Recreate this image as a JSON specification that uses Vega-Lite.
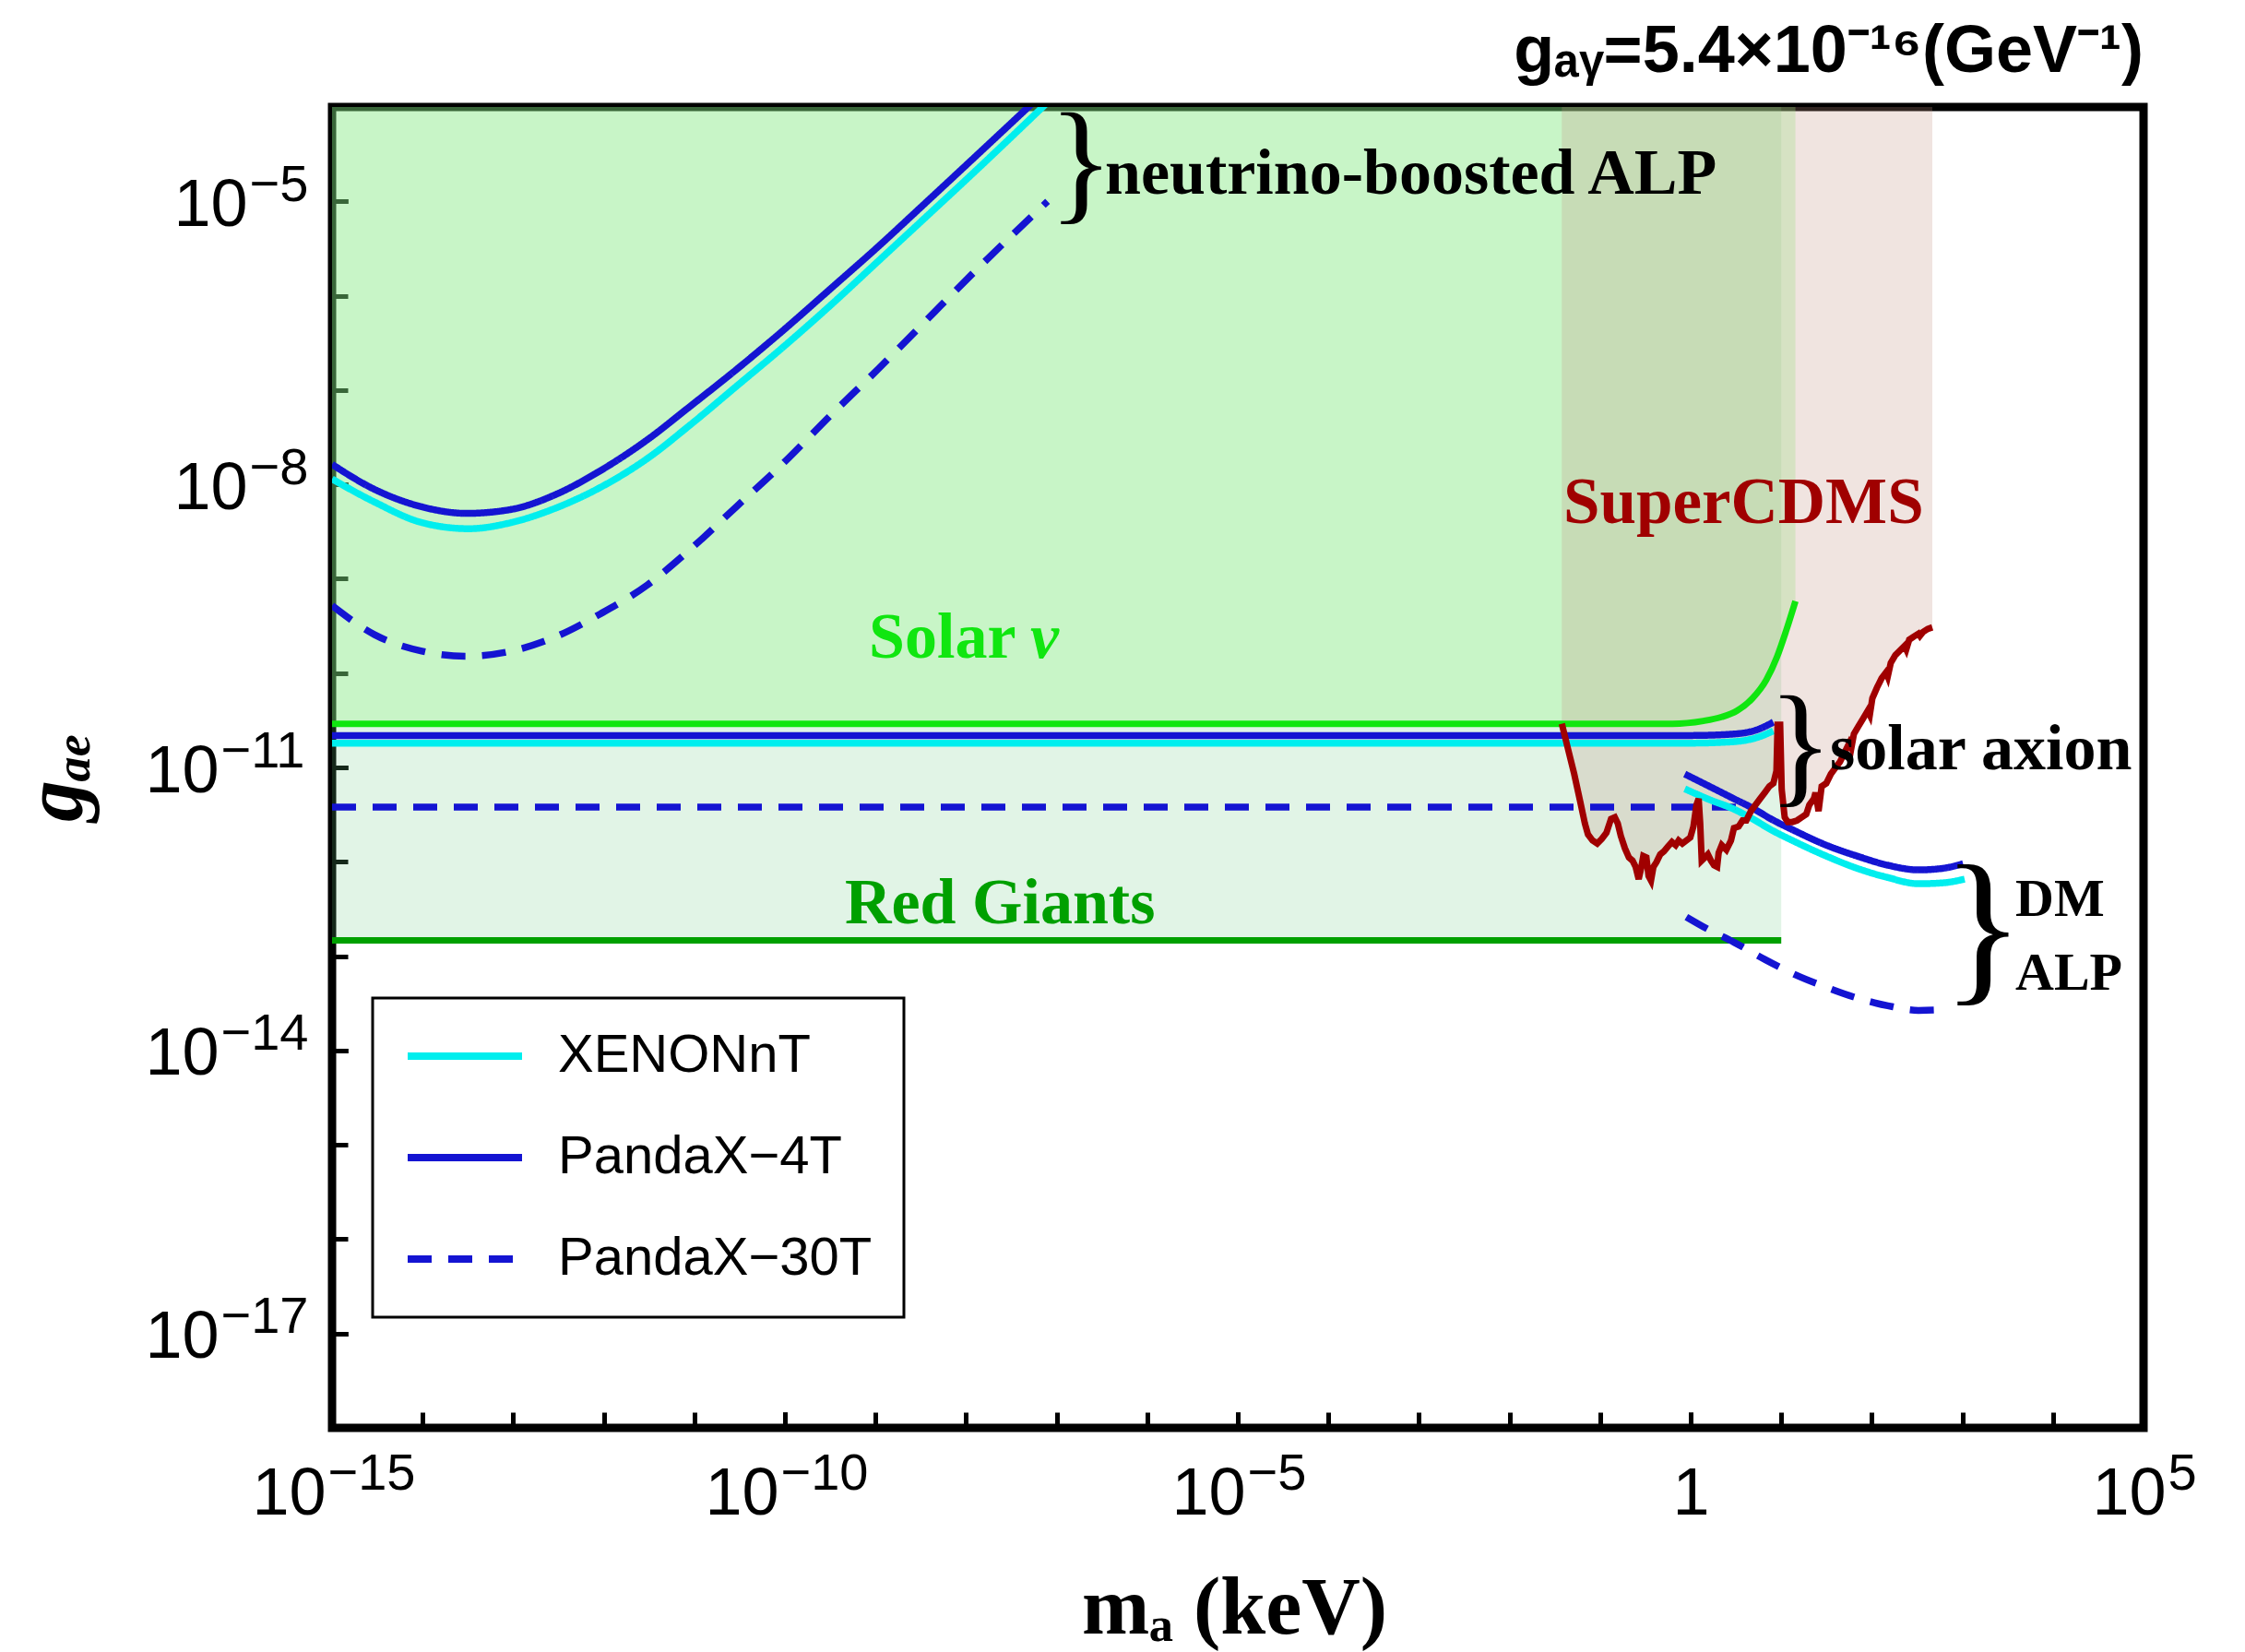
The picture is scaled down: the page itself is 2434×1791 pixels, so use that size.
{
"$schema": "https://vega.github.io/schema/vega-lite/v6.json",
"width": 1964, "height": 1432,
"autosize": {"type": "none"},
"padding": {"left": 360, "top": 116, "right": 110, "bottom": 243},
"background": "white",
"title": {"text": "gₐᵧ=5.4×10⁻¹⁶(GeV⁻¹)", "anchor": "end", "frame": "group", "orient": "top", "font": "Liberation Sans", "fontSize": 72, "fontWeight": "bold", "color": "black", "baseline": "alphabetic", "offset": 28, "dy": 72},
"config": {"view": {"stroke": "black", "strokeWidth": 9}, "font": "Liberation Sans",
 "axis": {"domain": false, "grid": false, "ticks": true, "tickSize": -17, "tickWidth": 5, "tickColor": "black", "labelFont": "Liberation Sans", "labelColor": "black", "labelFlush": false, "labelOverlap": false, "labelBound": false, "zindex": 1}},
"resolve": {"axis": {"x": "independent", "y": "independent"}},
"datasets": {
"rg": [{"ma": 1e-15, "gae": 1.47e-13}, {"ma": 10, "gae": 1.47e-13}],
"solarnu": [
{"ma": 1e-15, "gae": 2.9e-11}, {"ma": 0.631, "gae": 2.9e-11}, {"ma": 1.377, "gae": 3.11e-11}, {"ma": 2.203, "gae": 3.43e-11},
{"ma": 3.251, "gae": 3.99e-11}, {"ma": 4.808, "gae": 5.4e-11}, {"ma": 6.839, "gae": 8.47e-11}, {"ma": 8.995, "gae": 1.49e-10},
{"ma": 11.35, "gae": 2.83e-10}, {"ma": 14.35, "gae": 5.79e-10}],
"cdms": [
{"ma": 0.0378, "gae": 2.9e-11}, {"ma": 0.0443, "gae": 1.56e-11}, {"ma": 0.0518, "gae": 8.51e-12}, {"ma": 0.0604, "gae": 4.32e-12},
{"ma": 0.0679, "gae": 2.55e-12}, {"ma": 0.0735, "gae": 1.95e-12}, {"ma": 0.0826, "gae": 1.68e-12}, {"ma": 0.0929, "gae": 1.56e-12},
{"ma": 0.1045, "gae": 1.75e-12}, {"ma": 0.1175, "gae": 2.03e-12}, {"ma": 0.1321, "gae": 2.85e-12}, {"ma": 0.1452, "gae": 2.96e-12},
{"ma": 0.1567, "gae": 2.55e-12}, {"ma": 0.1694, "gae": 1.88e-12}, {"ma": 0.1879, "gae": 1.39e-12}, {"ma": 0.208, "gae": 1.11e-12},
{"ma": 0.228, "gae": 1.03e-12}, {"ma": 0.2466, "gae": 8.85e-13}, {"ma": 0.2667, "gae": 6.55e-13}, {"ma": 0.2838, "gae": 8.53e-13},
{"ma": 0.2999, "gae": 1.15e-12}, {"ma": 0.3243, "gae": 1.11e-12}, {"ma": 0.3428, "gae": 7.06e-13}, {"ma": 0.3648, "gae": 6.31e-13},
{"ma": 0.3882, "gae": 8.85e-13}, {"ma": 0.4198, "gae": 9.93e-13}, {"ma": 0.4613, "gae": 1.2e-12}, {"ma": 0.507, "gae": 1.29e-12},
{"ma": 0.561, "gae": 1.45e-12}, {"ma": 0.6209, "gae": 1.62e-12}, {"ma": 0.6823, "gae": 1.5e-12}, {"ma": 0.7362, "gae": 1.68e-12},
{"ma": 0.8091, "gae": 1.56e-12}, {"ma": 0.8954, "gae": 1.68e-12}, {"ma": 0.9908, "gae": 1.81e-12}, {"ma": 1.072, "gae": 2.36e-12},
{"ma": 1.159, "gae": 4.0e-12}, {"ma": 1.225, "gae": 4.66e-12}, {"ma": 1.274, "gae": 2.55e-12}, {"ma": 1.324, "gae": 1.03e-12},
{"ma": 1.432, "gae": 1.11e-12}, {"ma": 1.549, "gae": 1.2e-12}, {"ma": 1.675, "gae": 1.03e-12}, {"ma": 1.811, "gae": 9.2e-13},
{"ma": 1.959, "gae": 8.85e-13}, {"ma": 2.037, "gae": 1.245e-12}, {"ma": 2.203, "gae": 1.5e-12}, {"ma": 2.477, "gae": 1.34e-12},
{"ma": 2.786, "gae": 1.68e-12}, {"ma": 3.006, "gae": 2.28e-12}, {"ma": 3.381, "gae": 2.36e-12}, {"ma": 3.741, "gae": 2.74e-12},
{"ma": 4.111, "gae": 2.74e-12}, {"ma": 4.624, "gae": 3.44e-12}, {"ma": 5.2, "gae": 4.0e-12}, {"ma": 5.848, "gae": 4.66e-12},
{"ma": 6.577, "gae": 5.41e-12}, {"ma": 7.396, "gae": 6.3e-12}, {"ma": 8.185, "gae": 6.78e-12}, {"ma": 8.851, "gae": 9.16e-12},
{"ma": 9.12, "gae": 2.84e-11}, {"ma": 9.727, "gae": 2.84e-11}, {"ma": 10.12, "gae": 5.83e-12}, {"ma": 10.91, "gae": 2.96e-12},
{"ma": 11.8, "gae": 2.64e-12}, {"ma": 13.27, "gae": 2.64e-12}, {"ma": 14.93, "gae": 2.74e-12}, {"ma": 16.79, "gae": 2.96e-12},
{"ma": 18.88, "gae": 3.19e-12}, {"ma": 20.42, "gae": 4.0e-12}, {"ma": 22.96, "gae": 4.66e-12}, {"ma": 23.88, "gae": 5.41e-12},
{"ma": 25.82, "gae": 3.44e-12}, {"ma": 27.93, "gae": 6.3e-12}, {"ma": 31.41, "gae": 6.78e-12}, {"ma": 35.32, "gae": 8.51e-12},
{"ma": 39.63, "gae": 9.89e-12}, {"ma": 44.57, "gae": 1.15e-11}, {"ma": 50.12, "gae": 1.44e-11}, {"ma": 56.36, "gae": 1.81e-11},
{"ma": 59.5, "gae": 1.62e-11}, {"ma": 63.39, "gae": 2.26e-11}, {"ma": 71.29, "gae": 2.74e-11}, {"ma": 80.17, "gae": 3.3e-11},
{"ma": 90.16, "gae": 3.99e-11}, {"ma": 95.0, "gae": 3.6e-11}, {"ma": 101.4, "gae": 5.4e-11}, {"ma": 114.0, "gae": 7.01e-11},
{"ma": 128.2, "gae": 8.81e-11}, {"ma": 143.9, "gae": 1.02e-10}, {"ma": 150.0, "gae": 9.2e-11}, {"ma": 161.8, "gae": 1.28e-10},
{"ma": 182.0, "gae": 1.55e-10}, {"ma": 204.6, "gae": 1.73e-10}, {"ma": 230.1, "gae": 1.94e-10}, {"ma": 240.0, "gae": 1.78e-10},
{"ma": 258.8, "gae": 2.26e-10}, {"ma": 291.1, "gae": 2.44e-10}, {"ma": 327.3, "gae": 2.62e-10}, {"ma": 340.0, "gae": 2.48e-10},
{"ma": 368.1, "gae": 2.73e-10}, {"ma": 414.0, "gae": 2.94e-10}, {"ma": 465.6, "gae": 3.05e-10}],
"det": [
{"detector": "PandaX−4T", "curve": "nu4", "ma": 1e-15, "gae": 1.63e-8},
{"detector": "PandaX−4T", "curve": "nu4", "ma": 2.95e-15, "gae": 8.85e-9},
{"detector": "PandaX−4T", "curve": "nu4", "ma": 9.77e-15, "gae": 5.79e-9},
{"detector": "PandaX−4T", "curve": "nu4", "ma": 3.04e-14, "gae": 4.93e-9},
{"detector": "PandaX−4T", "curve": "nu4", "ma": 9.51e-14, "gae": 5.43e-9},
{"detector": "PandaX−4T", "curve": "nu4", "ma": 2.96e-13, "gae": 7.83e-9},
{"detector": "PandaX−4T", "curve": "nu4", "ma": 9.2e-13, "gae": 1.4e-8},
{"detector": "PandaX−4T", "curve": "nu4", "ma": 3.05e-12, "gae": 2.99e-8},
{"detector": "PandaX−4T", "curve": "nu4", "ma": 8.97e-12, "gae": 6.71e-8},
{"detector": "PandaX−4T", "curve": "nu4", "ma": 2.96e-11, "gae": 1.67e-7},
{"detector": "PandaX−4T", "curve": "nu4", "ma": 9.79e-11, "gae": 4.37e-7},
{"detector": "PandaX−4T", "curve": "nu4", "ma": 3.24e-10, "gae": 1.2e-6},
{"detector": "PandaX−4T", "curve": "nu4", "ma": 1.07e-9, "gae": 3.31e-6},
{"detector": "PandaX−4T", "curve": "nu4", "ma": 3.55e-9, "gae": 9.59e-6},
{"detector": "PandaX−4T", "curve": "nu4", "ma": 1.17e-8, "gae": 2.78e-5},
{"detector": "PandaX−4T", "curve": "nu4", "ma": 6.31e-8, "gae": 1.26e-4},
{"detector": "XENONnT", "curve": "nuX", "ma": 1e-15, "gae": 1.14e-8},
{"detector": "XENONnT", "curve": "nuX", "ma": 2.95e-15, "gae": 6.5e-9},
{"detector": "XENONnT", "curve": "nuX", "ma": 9.77e-15, "gae": 3.94e-9},
{"detector": "XENONnT", "curve": "nuX", "ma": 3.24e-14, "gae": 3.39e-9},
{"detector": "XENONnT", "curve": "nuX", "ma": 9.51e-14, "gae": 3.94e-9},
{"detector": "XENONnT", "curve": "nuX", "ma": 2.96e-13, "gae": 5.62e-9},
{"detector": "XENONnT", "curve": "nuX", "ma": 9.2e-13, "gae": 9.31e-9},
{"detector": "XENONnT", "curve": "nuX", "ma": 3.05e-12, "gae": 1.89e-8},
{"detector": "XENONnT", "curve": "nuX", "ma": 8.97e-12, "gae": 4.26e-8},
{"detector": "XENONnT", "curve": "nuX", "ma": 2.96e-11, "gae": 1.11e-7},
{"detector": "XENONnT", "curve": "nuX", "ma": 9.79e-11, "gae": 2.91e-7},
{"detector": "XENONnT", "curve": "nuX", "ma": 3.24e-10, "gae": 8.02e-7},
{"detector": "XENONnT", "curve": "nuX", "ma": 1.07e-9, "gae": 2.32e-6},
{"detector": "XENONnT", "curve": "nuX", "ma": 3.55e-9, "gae": 6.73e-6},
{"detector": "XENONnT", "curve": "nuX", "ma": 1.17e-8, "gae": 1.95e-5},
{"detector": "XENONnT", "curve": "nuX", "ma": 7.94e-8, "gae": 1.12e-4},
{"detector": "PandaX−30T", "curve": "nu30", "ma": 1e-15, "gae": 5.19e-10},
{"detector": "PandaX−30T", "curve": "nu30", "ma": 2.95e-15, "gae": 2.55e-10},
{"detector": "PandaX−30T", "curve": "nu30", "ma": 9.77e-15, "gae": 1.71e-10},
{"detector": "PandaX−30T", "curve": "nu30", "ma": 3.04e-14, "gae": 1.51e-10},
{"detector": "PandaX−30T", "curve": "nu30", "ma": 9.51e-14, "gae": 1.71e-10},
{"detector": "PandaX−30T", "curve": "nu30", "ma": 2.96e-13, "gae": 2.43e-10},
{"detector": "PandaX−30T", "curve": "nu30", "ma": 9.2e-13, "gae": 4.25e-10},
{"detector": "PandaX−30T", "curve": "nu30", "ma": 3.05e-12, "gae": 8.63e-10},
{"detector": "PandaX−30T", "curve": "nu30", "ma": 8.97e-12, "gae": 2.04e-9},
{"detector": "PandaX−30T", "curve": "nu30", "ma": 2.96e-11, "gae": 5.89e-9},
{"detector": "PandaX−30T", "curve": "nu30", "ma": 9.79e-11, "gae": 1.71e-8},
{"detector": "PandaX−30T", "curve": "nu30", "ma": 3.24e-10, "gae": 5.47e-8},
{"detector": "PandaX−30T", "curve": "nu30", "ma": 1.07e-9, "gae": 1.67e-7},
{"detector": "PandaX−30T", "curve": "nu30", "ma": 3.55e-9, "gae": 5.35e-7},
{"detector": "PandaX−30T", "curve": "nu30", "ma": 1.17e-8, "gae": 1.7e-6},
{"detector": "PandaX−30T", "curve": "nu30", "ma": 7.94e-8, "gae": 1.0e-5},
{"detector": "PandaX−4T", "curve": "sol4", "ma": 1e-15, "gae": 2.18e-11},
{"detector": "PandaX−4T", "curve": "sol4", "ma": 1.0, "gae": 2.18e-11},
{"detector": "PandaX−4T", "curve": "sol4", "ma": 3.0, "gae": 2.26e-11},
{"detector": "PandaX−4T", "curve": "sol4", "ma": 5.62, "gae": 2.54e-11},
{"detector": "PandaX−4T", "curve": "sol4", "ma": 8.18, "gae": 3.02e-11},
{"detector": "XENONnT", "curve": "solX", "ma": 1e-15, "gae": 1.81e-11},
{"detector": "XENONnT", "curve": "solX", "ma": 1.0, "gae": 1.81e-11},
{"detector": "XENONnT", "curve": "solX", "ma": 3.0, "gae": 1.875e-11},
{"detector": "XENONnT", "curve": "solX", "ma": 5.62, "gae": 2.1e-11},
{"detector": "XENONnT", "curve": "solX", "ma": 8.18, "gae": 2.44e-11},
{"detector": "PandaX−30T", "curve": "sol30", "ma": 1e-15, "gae": 3.79e-12},
{"detector": "PandaX−30T", "curve": "sol30", "ma": 5.0, "gae": 3.79e-12},
{"detector": "PandaX−4T", "curve": "dm4", "ma": 0.861, "gae": 8.51e-12},
{"detector": "PandaX−4T", "curve": "dm4", "ma": 1.611, "gae": 6.3e-12},
{"detector": "PandaX−4T", "curve": "dm4", "ma": 3.013, "gae": 4.65e-12},
{"detector": "PandaX−4T", "curve": "dm4", "ma": 4.819, "gae": 3.71e-12},
{"detector": "PandaX−4T", "curve": "dm4", "ma": 7.691, "gae": 2.85e-12},
{"detector": "PandaX−4T", "curve": "dm4", "ma": 14.39, "gae": 2.11e-12},
{"detector": "PandaX−4T", "curve": "dm4", "ma": 31.41, "gae": 1.5e-12},
{"detector": "PandaX−4T", "curve": "dm4", "ma": 68.71, "gae": 1.15e-12},
{"detector": "PandaX−4T", "curve": "dm4", "ma": 150.0, "gae": 9.2e-13},
{"detector": "PandaX−4T", "curve": "dm4", "ma": 327.3, "gae": 8.2e-13},
{"detector": "PandaX−4T", "curve": "dm4", "ma": 612.4, "gae": 8.53e-13},
{"detector": "PandaX−4T", "curve": "dm4", "ma": 1019, "gae": 9.55e-13},
{"detector": "XENONnT", "curve": "dmX", "ma": 0.861, "gae": 5.93e-12},
{"detector": "XENONnT", "curve": "dmX", "ma": 1.611, "gae": 4.56e-12},
{"detector": "XENONnT", "curve": "dmX", "ma": 3.013, "gae": 3.61e-12},
{"detector": "XENONnT", "curve": "dmX", "ma": 4.819, "gae": 2.85e-12},
{"detector": "XENONnT", "curve": "dmX", "ma": 7.691, "gae": 2.19e-12},
{"detector": "XENONnT", "curve": "dmX", "ma": 14.39, "gae": 1.62e-12},
{"detector": "XENONnT", "curve": "dmX", "ma": 31.41, "gae": 1.15e-12},
{"detector": "XENONnT", "curve": "dmX", "ma": 68.71, "gae": 8.53e-13},
{"detector": "XENONnT", "curve": "dmX", "ma": 150.0, "gae": 6.81e-13},
{"detector": "XENONnT", "curve": "dmX", "ma": 327.3, "gae": 5.85e-13},
{"detector": "XENONnT", "curve": "dmX", "ma": 612.4, "gae": 5.98e-13},
{"detector": "XENONnT", "curve": "dmX", "ma": 1059, "gae": 6.55e-13},
{"detector": "PandaX−30T", "curve": "dm30", "ma": 0.897, "gae": 2.6e-13},
{"detector": "PandaX−30T", "curve": "dm30", "ma": 1.585, "gae": 1.905e-13},
{"detector": "PandaX−30T", "curve": "dm30", "ma": 3.013, "gae": 1.4e-13},
{"detector": "PandaX−30T", "curve": "dm30", "ma": 6.577, "gae": 9.23e-14},
{"detector": "PandaX−30T", "curve": "dm30", "ma": 14.39, "gae": 6.32e-14},
{"detector": "PandaX−30T", "curve": "dm30", "ma": 31.41, "gae": 4.68e-14},
{"detector": "PandaX−30T", "curve": "dm30", "ma": 68.71, "gae": 3.6e-14},
{"detector": "PandaX−30T", "curve": "dm30", "ma": 150.0, "gae": 2.98e-14},
{"detector": "PandaX−30T", "curve": "dm30", "ma": 327.3, "gae": 2.66e-14},
{"detector": "PandaX−30T", "curve": "dm30", "ma": 716, "gae": 2.72e-14}],
"txt_black": [{"text": "neutrino-boosted ALP", "ma": 3.42e-7, "gae": 1.2e-5}, {"text": "solar axion", "ma": 34.5, "gae": 9.51e-12}],
"txt_dm": [{"text": "DM", "ma": 3846, "gae": 2.67e-13}, {"text": "ALP", "ma": 3846, "gae": 4.37e-14}],
"brace_s": [{"text": "}", "ma": 1.86e-7, "gae": 8.99e-6}, {"text": "}", "ma": 16.3, "gae": 5.96e-12}],
"brace_l": [{"text": "}", "ma": 1690, "gae": 5.24e-14}],
"txt_cdms": [{"text": "SuperCDMS", "ma": 0.0394, "gae": 3.9e-9}],
"txt_solar": [{"text": "Solar", "ma": 8.45e-10, "gae": 1.47e-10}],
"txt_nu": [{"text": "ν", "ma": 5.12e-8, "gae": 1.47e-10}],
"txt_rg": [{"text": "Red Giants", "ma": 4.59e-10, "gae": 2.23e-13}]
},
"encoding": {
"x": {"field": "ma", "type": "quantitative", "scale": {"type": "log", "domain": [1e-15, 1e5], "nice": false}, "axis": null},
"y": {"field": "gae", "type": "quantitative", "scale": {"type": "log", "domain": [1e-18, 1e-4], "nice": false}, "axis": null}
},
"layer": [
{"data": {"name": "rg"}, "mark": {"type": "area", "color": "#69c882", "opacity": 0.2},
 "encoding": {"y2": {"datum": 1e-4},
  "x": {"field": "ma", "type": "quantitative", "scale": {"type": "log", "domain": [1e-15, 1e5], "nice": false},
   "axis": {"orient": "bottom", "labels": false, "title": "mₐ (keV)", "values": [1e-15,1e-14,1e-13,1e-12,1e-11,1e-10,1e-9,1e-8,1e-7,1e-6,1e-5,1e-4,1e-3,1e-2,1e-1,1,10,100,1000,1e4,1e5],
    "titleFont": "Liberation Serif", "titleFontSize": 88, "titleFontWeight": "bold", "titleColor": "black", "titleX": 978, "titleY": 222, "titleAlign": "center", "titleBaseline": "alphabetic"}},
  "y": {"field": "gae", "type": "quantitative", "scale": {"type": "log", "domain": [1e-18, 1e-4], "nice": false},
   "axis": {"orient": "left", "labels": false, "title": "gₐₑ", "values": [1e-18,1e-17,1e-16,1e-15,1e-14,1e-13,1e-12,1e-11,1e-10,1e-9,1e-8,1e-7,1e-6,1e-5,1e-4],
    "titleFont": "Liberation Serif", "titleFontSize": 90, "titleFontWeight": "bold", "titleFontStyle": "italic", "titleColor": "black", "titleX": -272, "titleY": 726, "titleAngle": 270, "titleAlign": "center", "titleBaseline": "alphabetic"}}}},
{"data": {"name": "solarnu"}, "mark": {"type": "area", "color": "#8ef782", "opacity": 0.3, "interpolate": "monotone"},
 "encoding": {"y2": {"datum": 1e-4},
  "x": {"field": "ma", "type": "quantitative", "scale": {"type": "log", "domain": [1e-15, 1e5], "nice": false},
   "axis": {"orient": "bottom", "title": null, "values": [1e-15, 1e-10], "labelExpr": "'10'", "labelFontSize": 72, "labelAlign": "right", "labelBaseline": "alphabetic", "labelOffset": -7, "labelPadding": 110}},
  "y": {"field": "gae", "type": "quantitative", "scale": {"type": "log", "domain": [1e-18, 1e-4], "nice": false},
   "axis": {"orient": "left", "title": null, "values": [1e-17, 1e-14, 1e-11], "labelExpr": "'10'", "labelFontSize": 72, "labelAlign": "right", "labelBaseline": "alphabetic", "labelOffset": 26, "labelPadding": 140}}}},
{"data": {"name": "cdms"}, "mark": {"type": "area", "color": "#c39383", "opacity": 0.25},
 "encoding": {"y2": {"datum": 1e-4},
  "x": {"field": "ma", "type": "quantitative", "scale": {"type": "log", "domain": [1e-15, 1e5], "nice": false},
   "axis": {"orient": "bottom", "title": null, "values": [1e-5], "labelExpr": "'10'", "labelFontSize": 72, "labelAlign": "right", "labelBaseline": "alphabetic", "labelOffset": 8, "labelPadding": 110}},
  "y": {"field": "gae", "type": "quantitative", "scale": {"type": "log", "domain": [1e-18, 1e-4], "nice": false},
   "axis": {"orient": "left", "title": null, "values": [1e-17, 1e-14, 1e-11], "labelExpr": "datum.value < 1e-16 ? '−17' : datum.value < 1e-13 ? '−14' : '−11'", "labelFontSize": 56, "labelAlign": "left", "labelBaseline": "alphabetic", "labelOffset": -1, "labelPadding": 138}}}},
{"data": {"name": "rg"}, "mark": {"type": "line", "color": "#00a000", "strokeWidth": 7},
 "encoding": {
  "x": {"field": "ma", "type": "quantitative", "scale": {"type": "log", "domain": [1e-15, 1e5], "nice": false},
   "axis": {"orient": "bottom", "title": null, "values": [1e5], "labelExpr": "'10'", "labelFontSize": 72, "labelAlign": "right", "labelBaseline": "alphabetic", "labelOffset": 24, "labelPadding": 110}},
  "y": {"field": "gae", "type": "quantitative", "scale": {"type": "log", "domain": [1e-18, 1e-4], "nice": false},
   "axis": {"orient": "left", "title": null, "values": [1e-8, 1e-5], "labelExpr": "'10'", "labelFontSize": 72, "labelAlign": "right", "labelBaseline": "alphabetic", "labelOffset": 26, "labelPadding": 109}}}},
{"data": {"name": "solarnu"}, "mark": {"type": "line", "color": "#10e610", "strokeWidth": 7, "interpolate": "monotone"},
 "encoding": {
  "x": {"field": "ma", "type": "quantitative", "scale": {"type": "log", "domain": [1e-15, 1e5], "nice": false},
   "axis": {"orient": "bottom", "title": null, "values": [1], "labelExpr": "'1'", "labelFontSize": 72, "labelAlign": "center", "labelBaseline": "alphabetic", "labelPadding": 110}},
  "y": {"field": "gae", "type": "quantitative", "scale": {"type": "log", "domain": [1e-18, 1e-4], "nice": false},
   "axis": {"orient": "left", "title": null, "values": [1e-8, 1e-5], "labelExpr": "datum.value < 1e-6 ? '−8' : '−5'", "labelFontSize": 56, "labelAlign": "left", "labelBaseline": "alphabetic", "labelOffset": -1, "labelPadding": 107}}}},
{"data": {"name": "det"}, "mark": {"type": "line", "strokeWidth": 7.5, "interpolate": "monotone", "clip": true},
 "encoding": {
  "x": {"field": "ma", "type": "quantitative", "scale": {"type": "log", "domain": [1e-15, 1e5], "nice": false},
   "axis": {"orient": "bottom", "title": null, "values": [1e-15, 1e-10], "labelExpr": "datum.value < 1e-12 ? '−15' : '−10'", "labelFontSize": 56, "labelAlign": "left", "labelBaseline": "alphabetic", "labelOffset": -5, "labelPadding": 83}},
  "detail": {"field": "curve", "type": "nominal"},
  "color": {"field": "detector", "type": "nominal", "scale": {"domain": ["XENONnT", "PandaX−4T", "PandaX−30T"], "range": ["#00eeee", "#1414d2", "#1414d2"]},
   "legend": {"orient": "none", "legendX": 44, "legendY": 966, "title": null, "symbolType": "stroke", "symbolSize": 15376, "symbolStrokeWidth": 8, "clipHeight": 58, "rowPadding": 52, "padding": 34, "labelOffset": 35, "labelFont": "Liberation Sans", "labelFontSize": 58, "labelColor": "black", "labelLimit": 0, "strokeColor": "black", "fillColor": "white", "direction": "vertical", "encode": {"legend": {"update": {"strokeWidth": {"value": 3}}}}}},
  "strokeDash": {"field": "detector", "type": "nominal", "scale": {"domain": ["XENONnT", "PandaX−4T", "PandaX−30T"], "range": [[1, 0], [1, 0], [26, 18]]},
   "legend": {"orient": "none", "legendX": 44, "legendY": 966, "title": null, "symbolType": "stroke", "symbolSize": 15376, "symbolStrokeWidth": 8, "clipHeight": 58, "rowPadding": 52, "padding": 34, "labelOffset": 35, "labelFont": "Liberation Sans", "labelFontSize": 58, "labelColor": "black", "labelLimit": 0, "strokeColor": "black", "fillColor": "white", "direction": "vertical", "encode": {"legend": {"update": {"strokeWidth": {"value": 3}}}}}}
 }},
{"data": {"name": "cdms"}, "mark": {"type": "line", "color": "#a00000", "strokeWidth": 7},
 "encoding": {
  "x": {"field": "ma", "type": "quantitative", "scale": {"type": "log", "domain": [1e-15, 1e5], "nice": false},
   "axis": {"orient": "bottom", "title": null, "values": [1e-5], "labelExpr": "'−5'", "labelFontSize": 56, "labelAlign": "left", "labelBaseline": "alphabetic", "labelOffset": 10, "labelPadding": 83}}}},
{"data": {"name": "txt_black"}, "mark": {"type": "text", "font": "Liberation Serif", "fontSize": 70, "fontWeight": "bold", "color": "black", "align": "left", "baseline": "alphabetic"},
 "encoding": {"text": {"field": "text"},
  "x": {"field": "ma", "type": "quantitative", "scale": {"type": "log", "domain": [1e-15, 1e5], "nice": false},
   "axis": {"orient": "bottom", "title": null, "values": [1e5], "labelExpr": "'5'", "labelFontSize": 56, "labelAlign": "left", "labelBaseline": "alphabetic", "labelOffset": 26, "labelPadding": 83}}}},
{"data": {"name": "txt_dm"}, "mark": {"type": "text", "font": "Liberation Serif", "fontSize": 58, "fontWeight": "bold", "color": "black", "align": "left", "baseline": "alphabetic"}, "encoding": {"text": {"field": "text"}}},
{"data": {"name": "brace_s"}, "mark": {"type": "text", "font": "Liberation Serif", "fontSize": 146, "color": "black", "align": "center", "baseline": "alphabetic"}, "encoding": {"text": {"field": "text"}}},
{"data": {"name": "brace_l"}, "mark": {"type": "text", "font": "Liberation Serif", "fontSize": 185, "color": "black", "align": "center", "baseline": "alphabetic"}, "encoding": {"text": {"field": "text"}}},
{"data": {"name": "txt_cdms"}, "mark": {"type": "text", "font": "Liberation Serif", "fontSize": 71, "fontWeight": "bold", "color": "#a00000", "align": "left", "baseline": "alphabetic"}, "encoding": {"text": {"field": "text"}}},
{"data": {"name": "txt_solar"}, "mark": {"type": "text", "font": "Liberation Serif", "fontSize": 70, "fontWeight": "bold", "color": "#10e610", "align": "left", "baseline": "alphabetic"}, "encoding": {"text": {"field": "text"}}},
{"data": {"name": "txt_nu"}, "mark": {"type": "text", "font": "Liberation Serif", "fontSize": 70, "fontWeight": "bold", "fontStyle": "italic", "color": "#10e610", "align": "left", "baseline": "alphabetic"}, "encoding": {"text": {"field": "text"}}},
{"data": {"name": "txt_rg"}, "mark": {"type": "text", "font": "Liberation Serif", "fontSize": 70, "fontWeight": "bold", "color": "#00a000", "align": "left", "baseline": "alphabetic"}, "encoding": {"text": {"field": "text"}}}
]
}
